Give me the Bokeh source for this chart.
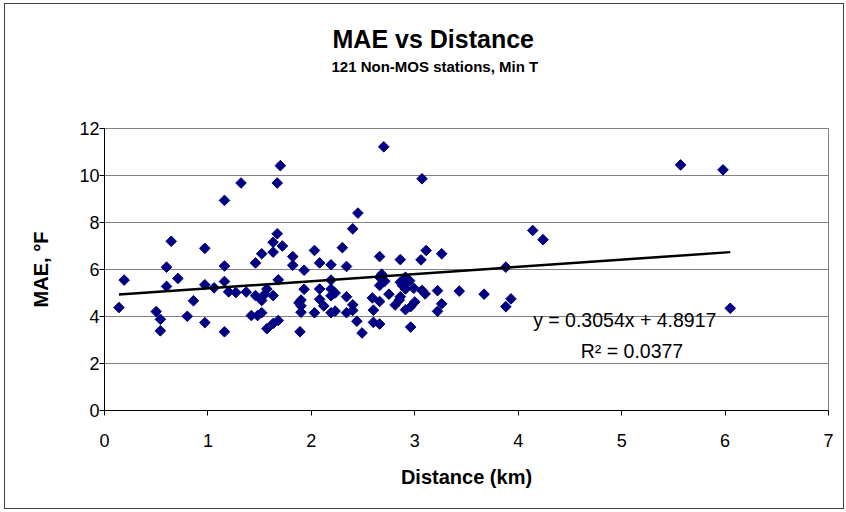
import numpy as np
from bokeh.plotting import figure
from bokeh.models import Label, Title, FixedTicker, Range1d, ColumnDataSource
from bokeh.embed import file_html
from bokeh.resources import INLINE

# ---- data ----
distance = [
    0.14, 0.19, 0.50, 0.54, 0.54, 0.60, 0.60, 0.645, 0.71, 0.80, 0.86, 0.97, 0.97, 0.97,
    1.06, 1.16, 1.16, 1.16, 1.16, 1.20, 1.27, 1.32, 1.37, 1.42, 1.46, 1.46, 1.48,
    1.52, 1.52, 1.52, 1.57, 1.57, 1.63, 1.63, 1.63, 1.63, 1.67, 1.67, 1.68, 1.68, 1.70,
    1.72, 1.82, 1.82, 1.89, 1.90, 1.90, 1.90, 1.93, 1.93,
    2.03, 2.03, 2.08, 2.08, 2.08, 2.19, 2.19, 2.19, 2.19, 2.19, 2.23, 2.23, 2.30, 2.34,
    2.34, 2.34, 2.40, 2.40, 2.40, 2.44, 2.45, 2.49,
    2.59, 2.60, 2.60, 2.66, 2.66, 2.66, 2.66, 2.66, 2.70, 2.75, 2.81, 2.86, 2.86, 2.86,
    2.91, 2.91, 2.91, 2.95, 2.96, 2.96, 3.00,
    3.06, 3.07, 3.07, 3.10, 3.11, 3.22, 3.22, 3.26, 3.26, 3.43, 3.67, 3.88, 3.88, 3.93,
    4.14, 4.24, 5.57, 5.98, 6.05,
    2.68, 2.88, 2.93, 2.71, 1.55, 1.88, 2.12, 2.85, 2.99,
]
mae = [
    4.38, 5.55, 4.21, 3.88, 3.39, 6.10, 5.28, 7.20, 5.62, 4.01, 4.67, 6.90, 5.35, 3.74,
    5.22, 8.94, 6.15, 5.49, 3.35, 5.05, 5.02, 9.68, 5.04, 4.04, 6.28, 4.89, 4.04,
    6.67, 4.68, 4.16, 5.17, 3.48, 7.16, 6.74, 4.89, 3.70, 9.68, 7.52, 5.56, 3.83, 10.42,
    7.00, 6.55, 6.18, 3.35, 4.70, 4.45, 4.18, 5.97, 5.16,
    6.81, 4.16, 6.28, 5.17, 4.73, 6.20, 5.55, 5.17, 4.88, 4.16, 5.00, 4.23, 6.93, 6.13,
    4.84, 4.16, 7.73, 4.50, 4.26, 3.80, 8.40, 3.30,
    4.79, 4.27, 3.75, 6.55, 5.67, 5.32, 4.64, 3.68, 11.22, 4.95, 4.49, 6.42, 5.46, 4.84,
    5.67, 5.17, 4.29, 5.52, 4.42, 3.55, 4.62,
    6.41, 9.86, 5.11, 4.96, 6.81, 5.10, 4.22, 6.67, 4.54, 5.08, 4.95, 6.10, 4.42, 4.75,
    7.66, 7.27, 10.45, 10.24, 4.35,
    5.80, 5.32, 5.45, 5.50, 4.95, 4.58, 4.45, 4.70, 5.20,
]
x_ticks = [0, 1, 2, 3, 4, 5, 6, 7]
y_ticks = [0, 2, 4, 6, 8, 10, 12]
trend_slope = 0.3054
trend_intercept = 4.8917
r_squared = 0.0377
title_text = "MAE vs Distance"
subtitle_text = "121 Non-MOS stations, Min T"
x_label = "Distance (km)"
y_label = "MAE, \u00b0F"

FONT = "Liberation Sans"

p = figure(
    title=None,
    frame_width=724, frame_height=282,
    x_range=Range1d(x_ticks[0], x_ticks[-1]), y_range=Range1d(y_ticks[0], y_ticks[-1]),
    output_backend="svg", toolbar_location=None,
    min_border_left=99, min_border_right=15,
    min_border_top=124, min_border_bottom=98,
    background_fill_color="white", border_fill_color="white",
)
p.styles = {"border": "1px solid #404040", "margin-left": "4px", "margin-top": "3px"}
p.outline_line_color = "#808080"
p.outline_line_width = 1

# titles: stacked upward from the plot area (first added = nearest)
p.add_layout(Title(text=" ", standoff=49.5, text_font=FONT, text_font_size="2px"), "above")
p.add_layout(Title(text=subtitle_text, align="left", offset=227, standoff=0,
                   vertical_align="bottom", text_font=FONT, text_font_size="15px",
                   text_font_style="bold", text_color="black"), "above")
p.add_layout(Title(text=title_text, align="left", offset=228, standoff=6,
                   vertical_align="bottom", text_font=FONT, text_font_size="25px",
                   text_font_style="bold", text_color="black"), "above")

# grid
p.xgrid.visible = False
p.ygrid.ticker = FixedTicker(ticks=y_ticks)
p.ygrid.grid_line_color = "#808080"
p.ygrid.grid_line_width = 1

# axes
p.xaxis.ticker = FixedTicker(ticks=x_ticks)
p.yaxis.ticker = FixedTicker(ticks=y_ticks)
for ax in (p.xaxis[0], p.yaxis[0]):
    ax.axis_line_color = "black"
    ax.axis_line_width = 1
    ax.major_tick_line_color = "black"
    ax.major_tick_out = 5
    ax.major_tick_in = 0
    ax.minor_tick_out = 0
    ax.minor_tick_in = 0
    ax.major_label_text_font = FONT
    ax.major_label_text_font_size = "18px"
    ax.major_label_text_color = "black"
    ax.axis_label_text_font = FONT
    ax.axis_label_text_font_size = "20px"
    ax.axis_label_text_font_style = "bold"
    ax.axis_label_text_color = "black"
p.xaxis.axis_label = x_label
p.yaxis.axis_label = y_label
p.xaxis.major_label_standoff = 18
p.xaxis.axis_label_standoff = 16
p.yaxis.major_label_standoff = 0
p.yaxis.axis_label_standoff = 24

# points
src = ColumnDataSource(dict(x=distance, y=mae))
p.scatter("x", "y", source=src, marker="square", size=7.5, angle=np.pi / 4,
          fill_color="#000080", line_color="#000080")

# linear trend line across the data range
xmin, xmax = min(distance), max(distance)
tx = [xmin, xmax]
ty = [trend_slope * v + trend_intercept for v in tx]
p.line(tx, ty, line_color="black", line_width=2.5)

# trend equation
p.add_layout(Label(x=5.03, y=3.83, text=f"y = {trend_slope:.4f}x + {trend_intercept:.4f}",
                   text_align="center", text_baseline="middle",
                   text_font=FONT, text_font_size="19.5px", text_color="black"))
p.add_layout(Label(x=5.10, y=2.55, text=f"R\u00b2 = {r_squared:.4f}",
                   text_align="center", text_baseline="middle",
                   text_font=FONT, text_font_size="19.5px", text_color="black"))

open("out.html", "w").write(file_html(p, INLINE))
